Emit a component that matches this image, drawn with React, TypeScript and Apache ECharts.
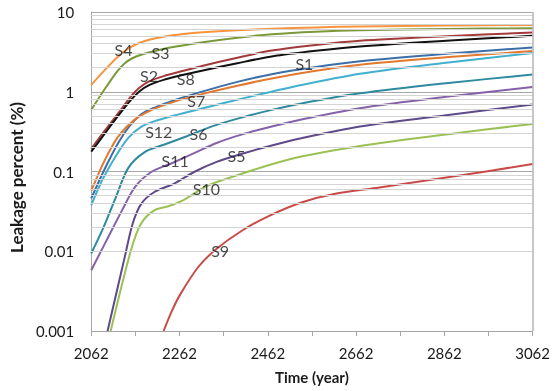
import React, { useEffect, useRef } from "react";
import * as echarts from "echarts";

// ---- data (year, leakage percent) ----
const S1 = [[2062, 0.046], [2093, 0.109], [2123, 0.228], [2149, 0.373], [2175, 0.52], [2204, 0.628], [2249, 0.78], [2315, 1.01], [2393, 1.33], [2471, 1.66], [2571, 2.04], [2671, 2.41], [2866, 2.99], [3062, 3.59]];
const S2 = [[2062, 0.192], [2093, 0.327], [2122, 0.528], [2152, 0.875], [2171, 1.12], [2193, 1.35], [2226, 1.57], [2271, 1.83], [2315, 2.12], [2393, 2.67], [2471, 3.28], [2571, 3.86], [2671, 4.36], [2866, 4.97], [3062, 5.54]];
const S3 = [[2062, 0.593], [2093, 1.09], [2120, 1.78], [2138, 2.28], [2155, 2.63], [2175, 2.91], [2204, 3.22], [2238, 3.56], [2315, 4.17], [2393, 4.76], [2471, 5.26], [2571, 5.66], [2671, 5.91], [2866, 6.13], [3062, 6.26]];
const S4 = [[2062, 1.22], [2093, 1.88], [2120, 2.67], [2142, 3.36], [2164, 3.94], [2193, 4.49], [2226, 4.9], [2271, 5.29], [2315, 5.57], [2393, 5.91], [2471, 6.17], [2571, 6.41], [2671, 6.59], [2866, 6.77], [3062, 6.87]];
const S5 = [[2099, 0.001], [2138, 0.0085], [2156, 0.0223], [2176, 0.0398], [2206, 0.0557], [2250, 0.0706], [2295, 0.0986], [2346, 0.132], [2404, 0.167], [2471, 0.212], [2538, 0.261], [2671, 0.366], [2866, 0.509], [3062, 0.69]];
const S6 = [[2062, 0.00938], [2089, 0.0195], [2117, 0.0465], [2146, 0.111], [2184, 0.176], [2228, 0.218], [2280, 0.279], [2339, 0.373], [2404, 0.477], [2471, 0.593], [2538, 0.713], [2671, 0.955], [2866, 1.28], [3062, 1.64]];
const S7 = [[2062, 0.0574], [2093, 0.14], [2123, 0.274], [2160, 0.444], [2197, 0.584], [2249, 0.747], [2315, 0.941], [2393, 1.19], [2471, 1.47], [2571, 1.83], [2671, 2.18], [2866, 2.7], [3062, 3.24]];
const S8 = [[2062, 0.177], [2093, 0.3], [2122, 0.491], [2152, 0.791], [2171, 1.01], [2193, 1.21], [2226, 1.41], [2271, 1.63], [2315, 1.85], [2393, 2.28], [2471, 2.77], [2571, 3.26], [2671, 3.7], [2866, 4.36], [3062, 5.04]];
const S9 = [[2226, 0.001], [2245, 0.0018], [2264, 0.0029], [2304, 0.0063], [2344, 0.0105], [2404, 0.0182], [2464, 0.0276], [2538, 0.0408], [2612, 0.0521], [2715, 0.063], [2889, 0.0877], [3062, 0.124]];
const S10 = [[2106, 0.001], [2152, 0.0103], [2175, 0.0223], [2204, 0.0324], [2238, 0.0369], [2271, 0.0439], [2324, 0.0658], [2398, 0.0916], [2471, 0.123], [2538, 0.154], [2671, 0.209], [2866, 0.292], [3062, 0.395]];
const S11 = [[2062, 0.00579], [2097, 0.0138], [2132, 0.0328], [2161, 0.0638], [2198, 0.0986], [2243, 0.126], [2295, 0.17], [2346, 0.228], [2404, 0.292], [2471, 0.367], [2538, 0.45], [2671, 0.622], [2866, 0.863], [3062, 1.15]];
const S12 = [[2062, 0.0379], [2087, 0.0782], [2117, 0.154], [2146, 0.264], [2175, 0.362], [2204, 0.425], [2260, 0.52], [2315, 0.622], [2415, 0.85], [2515, 1.14], [2671, 1.68], [2866, 2.31], [3062, 3.06]];

const seriesNames = ["S1", "S2", "S3", "S4", "S5", "S6", "S7", "S8", "S9", "S10", "S11", "S12"];
const seriesData = [S1, S2, S3, S4, S5, S6, S7, S8, S9, S10, S11, S12];
const seriesColors = ["#3c6ea8", "#a33a3a", "#7a9a3a", "#f7943e", "#5e4a8a", "#2e8a9e", "#e2792e", "#111111", "#c84b48", "#9bc155", "#8461a8", "#41b0cf"];

// in-plot labels
const labelNames = ["S4", "S3", "S2", "S8", "S1", "S7", "S12", "S6", "S11", "S5", "S10", "S9"];
const labelYears = [2135, 2219, 2193, 2276, 2545, 2300, 2215, 2305, 2252, 2391, 2323, 2354];
const labelValues = [3.36, 3.13, 1.61, 1.45, 2.26, 0.769, 0.316, 0.296, 0.139, 0.158, 0.0615, 0.0103];

const xTicks = [2062, 2262, 2462, 2662, 2862, 3062];
const yDecades = [0.001, 0.01, 0.1, 1, 10];

const FONT = "Lato";

export default function App() {
  const ref = useRef<HTMLDivElement>(null);
  useEffect(() => {
    if (!ref.current) return;
    const chart = echarts.init(ref.current, undefined, { renderer: "svg" });

    const minorVals: number[] = [];
    for (let d = 0; d < yDecades.length - 1; d++) {
      for (let k = 2; k <= 9; k++) minorVals.push(yDecades[d] * k);
    }

    const lineSeries = seriesData.map((data, i) => ({
      name: seriesNames[i],
      type: "line",
      data,
      showSymbol: false,
      symbol: "none",
      smooth: 0.3,
      z: 3,
      lineStyle: { width: 2, color: seriesColors[i] },
      itemStyle: { color: seriesColors[i] },
    }));

    chart.setOption({
      animation: false,
      grid: { left: 86, right: 17, top: 12, bottom: 60, containLabel: false },
      xAxis: {
        type: "value",
        min: xTicks[0],
        max: xTicks[xTicks.length - 1],
        interval: 200,
        name: "Time (year)",
        nameLocation: "middle",
        nameGap: 38,
        nameTextStyle: { fontFamily: FONT, fontWeight: "bold", fontSize: 15, color: "#1a1a1a" },
        axisLine: { show: true, lineStyle: { color: "#a6a6a6", width: 1 } },
        axisTick: { show: true, length: 5, lineStyle: { color: "#a6a6a6" } },
        minorTick: { show: true, splitNumber: 2, length: 5, lineStyle: { color: "#a6a6a6" } },
        axisLabel: { fontFamily: FONT, fontSize: 15, color: "#1a1a1a", margin: 14, formatter: (v: number) => String(v) },
        splitLine: { show: false },
      },
      yAxis: {
        type: "log",
        logBase: 10,
        min: yDecades[0],
        max: yDecades[yDecades.length - 1],
        name: "Leakage percent (%)",
        nameLocation: "middle",
        nameGap: 58,
        nameTextStyle: { fontFamily: FONT, fontWeight: "bold", fontSize: 17, color: "#1a1a1a", padding: [0, 12, 0, 0] },
        axisLine: { show: true, lineStyle: { color: "#a6a6a6", width: 1 } },
        axisTick: { show: false },
        axisLabel: {
          fontFamily: FONT,
          fontSize: 15,
          color: "#1a1a1a",
          margin: 17,
          formatter: (v: number) => String(parseFloat(v.toPrecision(3))),
        },
        splitLine: { show: true, lineStyle: { color: "#a8a8a8", width: 1 } },
      },
      series: [
        {
          type: "line",
          data: [],
          silent: true,
          z: 1,
          markLine: {
            silent: true,
            symbol: ["none", "none"],
            label: { show: false },
            lineStyle: { type: "solid", color: "#d4d4d4", width: 1 },
            data: minorVals.map((v) => ({ yAxis: v })),
          },
        },
        {
          type: "line",
          data: [],
          silent: true,
          z: 2,
          markLine: {
            silent: true,
            symbol: ["none", "none"],
            label: { show: false },
            lineStyle: { type: "solid", color: "#b4b4b4", width: 1.5 },
            data: [{ xAxis: xTicks[xTicks.length - 1] }],
          },
        },
        ...lineSeries,
        {
          type: "scatter",
          symbolSize: 0,
          z: 5,
          silent: true,
          data: labelNames.map((n, i) => ({ name: n, value: [labelYears[i], labelValues[i]] })),
          label: {
            show: true,
            position: "inside",
            formatter: "{b}",
            fontFamily: FONT,
            fontSize: 16,
            color: "#1a1a1a",
          },
        },
      ],
    });
    return () => chart.dispose();
  }, []);
  return <div ref={ref} style={{ position: "fixed", left: 0, top: 0, width: 553, height: 391 }} />;
}
